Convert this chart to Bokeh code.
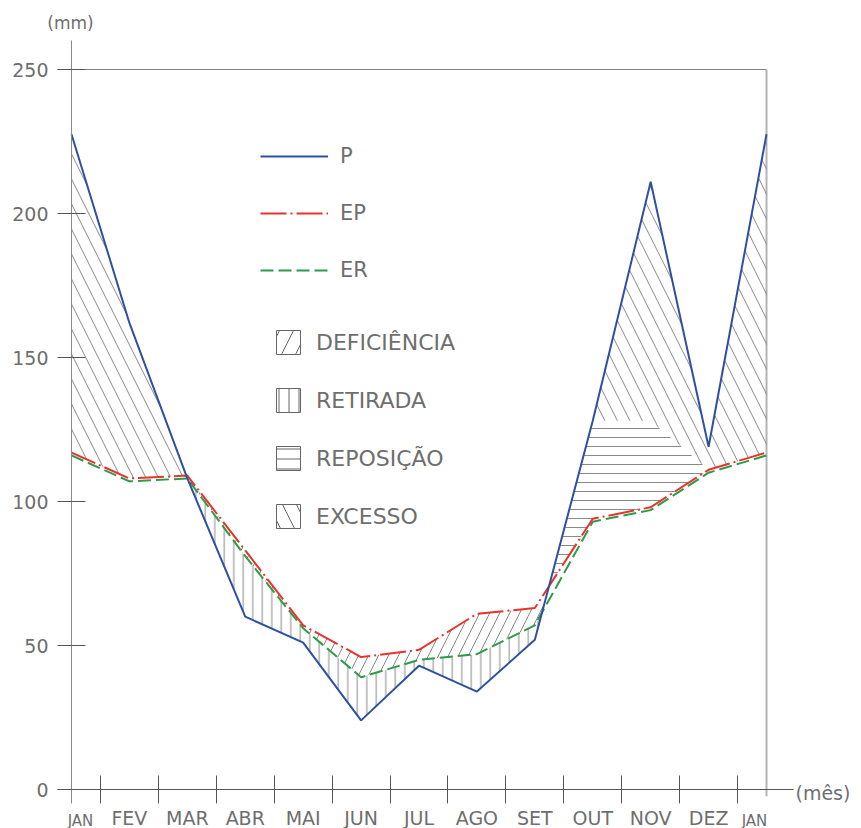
import numpy as np
from bokeh.plotting import figure
from bokeh.models import (Range1d, LinearAxis, FixedTicker, Label, Legend,
                          LegendItem, ColumnDataSource)
from bokeh.embed import file_html
from bokeh.resources import INLINE

# ---------------- data (mm) ----------------
MONTHS = ["JAN", "FEV", "MAR", "ABR", "MAI", "JUN", "JUL", "AGO", "SET",
          "OUT", "NOV", "DEZ", "JAN"]
P = [227.5, 162, 108, 60, 51, 24, 43, 34, 52, 128, 211, 119, 227.5]
EP = [117, 108, 109, 83, 57, 46, 48.5, 61, 63, 94, 98, 111, 117]
ER = [116, 107, 108, 81, 56, 39, 45, 47, 57, 93, 97, 110, 116]
REPOSICAO_TOP = 128          # upper level of the replenishment band (OUT-NOV)
Y_TICKS = [0, 50, 100, 150, 200, 250]

FONT = "DejaVu Sans"
TXT = "#6e6e6e"
BLUE, RED, GREEN = "#2e50a3", "#e8322a", "#2f9a48"
HATCH = "#747474"

W, H = 861, 828
PX_X, PX_Y = 57.917, 2.88          # pixels per month / per mm
X0_PX, Y0_PX = 71, 789             # where (JAN, 0 mm) sits on the canvas

x = np.arange(len(MONTHS), dtype=float)
n_last = len(MONTHS) - 1

# axis extents (the drawn axis lines)
X_BOUNDS = ((57 - X0_PX) / PX_X, (793 - X0_PX) / PX_X)
Y_BOUNDS = (-(803 - Y0_PX) / PX_Y, (Y0_PX - 40) / PX_Y)

# dense grid for the shaded regions
xd = np.linspace(0, n_last, n_last * 200 + 1)
Pd = np.interp(xd, x, P)
EPd = np.interp(xd, x, EP)
ERd = np.interp(xd, x, ER)
B = list(EP)
B[9] = REPOSICAO_TOP
B[10] = REPOSICAO_TOP
Bd = np.interp(xd, x, B)


def regions(xs_, up, lo):
    """Polygons of the area where up > lo (piecewise linear curves)."""
    d = up - lo
    m = d > 1e-9
    out_x, out_y = [], []
    i, n = 0, len(xs_)
    while i < n:
        if not m[i]:
            i += 1
            continue
        j = i
        while j + 1 < n and m[j + 1]:
            j += 1
        px = list(xs_[i:j + 1])
        pu = list(up[i:j + 1])
        pl = list(lo[i:j + 1])
        if i > 0:
            t = d[i - 1] / (d[i - 1] - d[i])
            xc = xs_[i - 1] + t * (xs_[i] - xs_[i - 1])
            yc = lo[i - 1] + t * (lo[i] - lo[i - 1])
            px.insert(0, xc); pu.insert(0, yc); pl.insert(0, yc)
        if j < n - 1:
            t = d[j] / (d[j] - d[j + 1])
            xc = xs_[j] + t * (xs_[j + 1] - xs_[j])
            yc = lo[j] + t * (lo[j + 1] - lo[j])
            px.append(xc); pu.append(yc); pl.append(yc)
        out_x.append(px + px[::-1])
        out_y.append(pu + pl[::-1])
        i = j + 1
    return out_x, out_y


exc = regions(xd, Pd, Bd)
rep = regions(xd, np.minimum(Pd, Bd), EPd)
dfc = regions(xd, EPd, np.maximum(ERd, Pd))
ret = regions(xd, ERd, Pd)

p = figure(width=W, height=H,
           x_range=Range1d(-X0_PX / PX_X, (W - X0_PX) / PX_X),
           y_range=Range1d(-(H - Y0_PX) / PX_Y, Y0_PX / PX_Y),
           x_axis_type=None, y_axis_type=None,
           toolbar_location=None, output_backend="svg", min_border=0)
p.outline_line_color = None
p.background_fill_color = "white"
p.border_fill_color = "white"

# frame lines (top at the highest tick, right at the last month)
p.segment(x0=[X_BOUNDS[0]], y0=[Y_TICKS[-1]], x1=[x[-1]], y1=[Y_TICKS[-1]],
          line_color="#808080", line_width=1)
p.segment(x0=[x[-1]], y0=[Y_TICKS[-1]], x1=[x[-1]], y1=[Y_BOUNDS[0] + 2.5],
          line_color="#b4b4b4", line_width=2)

hatch_kw = dict(fill_color=None, line_color=None, hatch_color=HATCH,
                hatch_weight=1, hatch_alpha=0.85)
p.patches(xs=exc[0], ys=exc[1], hatch_pattern="\\", hatch_scale=25, **hatch_kw)
p.patches(xs=rep[0], ys=rep[1], hatch_pattern="-", hatch_scale=9, **hatch_kw)
p.patches(xs=dfc[0], ys=dfc[1], hatch_pattern="/", hatch_scale=20, **hatch_kw)
p.patches(xs=ret[0], ys=ret[1], hatch_pattern="|", hatch_scale=9.5, **hatch_kw)

src = ColumnDataSource(dict(x=x, P=P, EP=EP, ER=ER))
r_er = p.line("x", "ER", source=src, line_color=GREEN, line_width=2,
              line_dash="13 5")
r_ep = p.line("x", "EP", source=src, line_color=RED, line_width=2,
              line_dash="26 4 2 4")
r_p = p.line("x", "P", source=src, line_color=BLUE, line_width=2)

# axes
yax = LinearAxis(fixed_location=0, bounds=Y_BOUNDS,
                 ticker=FixedTicker(ticks=Y_TICKS),
                 axis_line_color="#8a8a8a", axis_line_width=1,
                 major_tick_in=14, major_tick_out=14,
                 major_tick_line_color="#555555",
                 minor_tick_line_color=None,
                 major_label_standoff=9,
                 major_label_text_font=FONT,
                 major_label_text_font_size="19px",
                 major_label_text_color=TXT)
p.add_layout(yax, "left")

inner = list(range(1, n_last))
xax = LinearAxis(fixed_location=0, bounds=X_BOUNDS,
                 ticker=FixedTicker(ticks=inner,
                                    minor_ticks=[i + 0.5 for i in range(n_last)]),
                 major_label_overrides={i: MONTHS[i] for i in inner},
                 axis_line_color="#555555", axis_line_width=1,
                 major_tick_line_color=None, major_tick_in=0, major_tick_out=12,
                 minor_tick_in=14, minor_tick_out=14,
                 minor_tick_line_color="#555555",
                 major_label_standoff=3,
                 major_label_text_font=FONT,
                 major_label_text_font_size="19px",
                 major_label_text_color=TXT)
p.add_layout(xax, "below")

lab_kw = dict(text_font=FONT, text_color=TXT)
p.add_layout(Label(x=x[0], y=0, x_offset=9, y_offset=-31, text=MONTHS[0],
                   text_align="center", text_baseline="alphabetic",
                   text_font_size="15px", **lab_kw))
p.add_layout(Label(x=x[-1], y=0, x_offset=-12, y_offset=-31, text=MONTHS[-1],
                   text_align="center", text_baseline="alphabetic",
                   text_font_size="15px", **lab_kw))
p.add_layout(Label(x=x[0], y=Y_TICKS[-1], x_offset=-1, y_offset=47, text="(mm)",
                   text_align="center", text_baseline="middle",
                   text_font_size="17px", **lab_kw))
p.add_layout(Label(x=x[-1], y=0, x_offset=29, y_offset=-3, text="(mês)",
                   text_align="left", text_baseline="middle",
                   text_font_size="19px", **lab_kw))

# legend: lines
leg1 = Legend(items=[LegendItem(label="P", renderers=[r_p]),
                     LegendItem(label="EP", renderers=[r_ep]),
                     LegendItem(label="ER", renderers=[r_er])],
              location=(260, 545), orientation="vertical",
              glyph_width=68, glyph_height=26, label_height=26,
              spacing=31, padding=0, margin=0, label_standoff=12,
              border_line_color=None, background_fill_alpha=0,
              label_text_font=FONT, label_text_font_size="21px",
              label_text_color=TXT)
p.add_layout(leg1, "center")

# legend: hatched areas (hidden proxies carrying the box styling)
box_kw = dict(fill_color=None, line_color="#666666", line_width=1,
              hatch_color="#666666", hatch_weight=1, visible=False)
d_def = p.patches(xs=dfc[0], ys=dfc[1], hatch_pattern="/", hatch_scale=28, **box_kw)
d_ret = p.patches(xs=ret[0], ys=ret[1], hatch_pattern="|", hatch_scale=10, **box_kw)
d_rep = p.patches(xs=rep[0], ys=rep[1], hatch_pattern="-", hatch_scale=10, **box_kw)
d_exc = p.patches(xs=exc[0], ys=exc[1], hatch_pattern="\\", hatch_scale=28, **box_kw)
leg2 = Legend(items=[LegendItem(label="DEFICIÊNCIA", renderers=[d_def]),
                     LegendItem(label="RETIRADA", renderers=[d_ret]),
                     LegendItem(label="REPOSIÇÃO", renderers=[d_rep]),
                     LegendItem(label="EXCESSO", renderers=[d_exc])],
              location=(273, 297), orientation="vertical",
              glyph_width=30, glyph_height=30, label_height=30,
              spacing=28, padding=0, margin=0, label_standoff=13,
              border_line_color=None, background_fill_alpha=0,
              label_text_font=FONT, label_text_font_size="22px",
              label_text_color=TXT)
p.add_layout(leg2, "center")

open("out.html", "w").write(file_html(p, INLINE))
